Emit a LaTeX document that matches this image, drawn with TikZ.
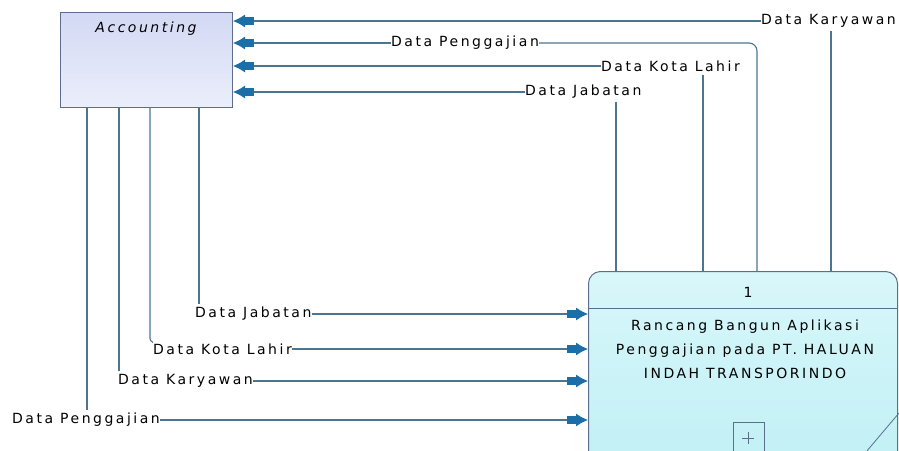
\documentclass[tikz,border=0pt]{standalone}
\usepackage{fontspec}
\newfontfamily\dfd[LetterSpace=18]{DejaVu Sans}
\usetikzlibrary{arrows.meta}
\definecolor{ln}{HTML}{4C7690}
\definecolor{ah}{HTML}{1B6FA6}
\definecolor{bx}{HTML}{5B6F8C}
\definecolor{acctop}{HTML}{D3D9F4}
\definecolor{accbot}{HTML}{EBEEFA}
\definecolor{proctop}{HTML}{D8F7FA}
\definecolor{procbot}{HTML}{C0F0F5}
\begin{document}
\begin{tikzpicture}[x=1pt,y=-1pt,
  lbl/.style={inner sep=0pt, font=\dfd\fontsize{14}{16}\selectfont, text=black},
  flow/.style={draw=ln, line width=1.1pt, -{Rectangle[length=9pt,width=8pt,color=ah]Latex[length=12pt,width=13pt,color=ah]}},
  wire/.style={draw=ln, line width=1.1pt}]
\useasboundingbox (0,0) rectangle (899,450);
\clip (0,0) rectangle (899,450);
\fill[white] (0,0) rectangle (899,450);

% entities / process
\node[draw=bx, line width=1pt, top color=acctop, bottom color=accbot,
      minimum width=172pt, minimum height=95pt, inner sep=0pt, anchor=north west] (acc) at (60,12) {};
\node[lbl, font=\dfd\itshape\fontsize{14}{16}\selectfont] (acct) at (146,29) {Accounting};

\node[draw=bx, line width=1pt, rounded corners=12pt, top color=proctop, bottom color=procbot,
      minimum width=309pt, minimum height=200pt, inner sep=0pt, anchor=north west] (proc) at (588,271) {};
\coordinate (dv) at (0,308);
\draw[bx, line width=1pt] (proc.west |- dv) -- (proc.east |- dv);
\node[lbl] (pnum) at (748,292) {1};
\node[lbl, align=center, font=\dfd\fontsize{14}{24}\selectfont] (ptxt) at (745,349)
  {Rancang Bangun Aplikasi\\Penggajian pada PT. HALUAN\\INDAH TRANSPORINDO};
\node[draw=bx, line width=0.8pt, minimum width=31pt, minimum height=40pt, inner sep=0pt, anchor=north west] (plus) at (733,422) {};
\draw[bx, line width=0.8pt] (742,438) -- (754,438) (748,432) -- (748,444);
\coordinate (dg1) at (899,413);
\coordinate (dg2) at (866,452);
\draw[bx, line width=0.8pt] (dg1) -- (dg2);

% top labels
\node[lbl, anchor=west] (lK1) at (761,21) {Data Karyawan};
\node[lbl, anchor=west] (lP1) at (391,43) {Data Penggajian};
\node[lbl, anchor=west] (lL1) at (601,66) {Data Kota Lahir};
\node[lbl, anchor=west] (lJ1) at (525,92) {Data Jabatan};

% bottom labels
\node[lbl, anchor=west] (lJ2) at (195,314) {Data Jabatan};
\node[lbl, anchor=west] (lL2) at (153,349) {Data Kota Lahir};
\node[lbl, anchor=west] (lK2) at (118,381) {Data Karyawan};
\node[lbl, anchor=west] (lP2) at (12,420) {Data Penggajian};

% flows process -> accounting
\coordinate (vK) at (831,0);
\coordinate (vP) at (757,0);
\coordinate (vL) at (703,0);
\coordinate (vJ) at (616,0);
\draw[wire] ([yshift=-3pt]vK |- lK1.south) -- (vK |- proc.north);
\draw[flow] (lK1.west) -- (lK1.west -| acc.east);
\draw[wire, rounded corners=8pt] (lP1.east) -| (vP |- proc.north);
\draw[flow] (lP1.west) -- (lP1.west -| acc.east);
\draw[wire] ([yshift=-3pt]vL |- lL1.south) -- (vL |- proc.north);
\draw[flow] (lL1.west) -- (lL1.west -| acc.east);
\draw[wire] ([yshift=-3pt]vJ |- lJ1.south) -- (vJ |- proc.north);
\draw[flow] (lJ1.west) -- (lJ1.west -| acc.east);

% flows accounting -> process
\coordinate (bJ) at (199,0);
\coordinate (bL) at (150,0);
\coordinate (bK) at (119,0);
\coordinate (bP) at (87,0);
\draw[wire] (bJ |- acc.south) -- ([yshift=3pt]bJ |- lJ2.north);
\draw[flow] (lJ2.east) -- (lJ2.east -| proc.west);
\draw[wire, rounded corners=3pt] (bL |- acc.south) -- ([yshift=2pt]bL |- lL2.north) -- ([yshift=1pt]lL2.north west);
\draw[flow] (lL2.east) -- (lL2.east -| proc.west);
\draw[wire] (bK |- acc.south) -- ([yshift=3pt]bK |- lK2.north);
\draw[flow] (lK2.east) -- (lK2.east -| proc.west);
\draw[wire] (bP |- acc.south) -- ([yshift=3pt]bP |- lP2.north);
\draw[flow] (lP2.east) -- (lP2.east -| proc.west);
\end{tikzpicture}
\end{document}
